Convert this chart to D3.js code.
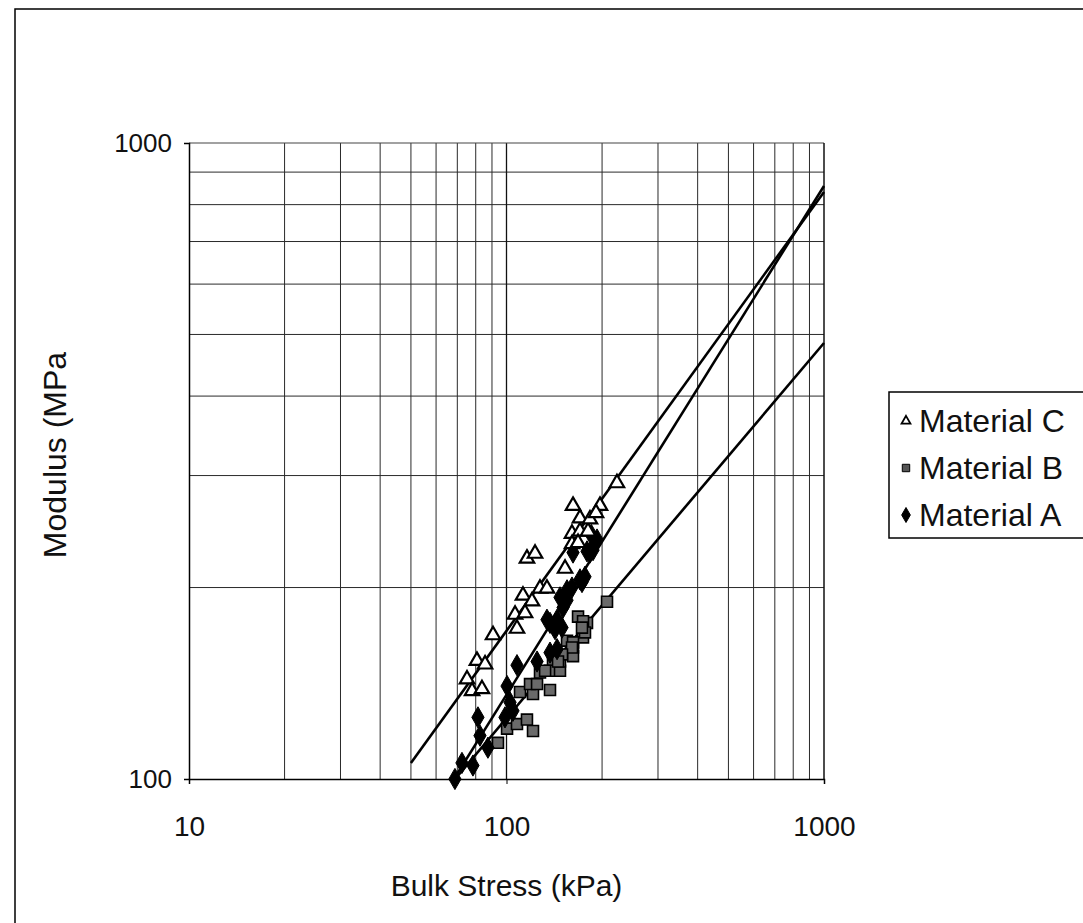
<!DOCTYPE html>
<html>
<head>
<meta charset="utf-8">
<script src="https://cdn.jsdelivr.net/npm/d3@7"></script>
<style>
  html, body { margin: 0; padding: 0; background: #fff; }
  svg { display: block; }
  text { font-family: "Liberation Sans", Arial, sans-serif; fill: #111; }
</style>
</head>
<body>
<svg id="chart" width="1083" height="923"></svg>
<script>
// Bulk stress (kPa) vs resilient modulus (MPa) for three materials
const materialC = [
  [75.1,144],[77.9,138],[83.7,139],[80.7,154],[85.6,152],[90.7,169],[107.9,173],
  [106.4,182],[114.4,183],[112.7,195],[120.3,191],[127.5,200],[134.1,200],[116,223],
  [123,227],[152.9,215],[160.8,244],[170.4,246],[180.6,246],[160.8,235],[168,236],
  [162,270],[170.4,258],[183.2,257],[197,270],[191.4,263],[222.8,293]
];
const materialB = [
  [94,114],[100.4,120],[107.9,122],[121.2,119],[116,124],[110.3,137],[121.2,136],
  [118.6,141],[124.8,141],[137.1,138],[127.5,147],[137.1,148],[147.4,148],[140.1,154],
  [162,161],[155.1,165],[174.2,167],[162,156],[147.4,153],[179.3,176],[207.3,190],
  [168,180],[174.2,177],[176.7,170],[162,164],[160.8,161],[149.6,157],[145.3,153],
  [132.3,148],[172.9,173]
];
const materialA = [
  [68.8,100],[72.4,106],[78.4,105],[82.5,117],[81.3,125],[87.4,112],[100.4,140],
  [107.9,151],[102.6,132],[98.9,125],[104.8,128],[124.8,153],[137.1,158],[134.1,178],
  [144.3,160],[142.2,175],[162,227],[179.3,228],[187.3,229],[192.8,238],[160.8,200],
  [170.4,206],[176.7,208],[155.1,198],[147.4,193],[150.7,186],[155.1,191],[144.3,178],
  [137.1,176],[142.2,172],[149.6,173],[172.9,204],[183.2,227],[185,242]
];

// Power-law trend lines E = a * (theta / t0)^b, drawn between the listed stress limits
const trendC = { ref: [50, 106], slope: 0.69, from: 50, to: 1000 };
const trendB = { ref: [223, 200], slope: 0.59, from: 60, to: 1000 };
const trendA = { ref: [68.3, 100], slope: 0.80, from: 60, to: 1000 };

const xTicks = [10, 100, 1000];
const yTicks = [100, 1000];
const legendItems = ["Material C", "Material B", "Material A"];

const svg = d3.select("#chart");
const pLeft = 189, pRight = 824, pTop = 143, pBottom = 779;

const x = d3.scaleLog().domain([10, 1000]).range([pLeft, pRight]);
const y = d3.scaleLog().domain([100, 1000]).range([pBottom, pTop]);

// chart-area frame
svg.append("rect").attr("x", 15).attr("y", 9).attr("width", 1080).attr("height", 920)
  .attr("fill", "#fff").attr("stroke", "#000").attr("stroke-width", 1.5);

// gridlines
const minorX = [];
for (const d of [10, 100]) for (let k = 2; k <= 9; k++) minorX.push(d * k);
const minorY = [];
for (let k = 2; k <= 9; k++) minorY.push(100 * k);

const grid = svg.append("g");
grid.selectAll(".gx").data(minorX).join("line")
  .attr("x1", d => x(d)).attr("x2", d => x(d)).attr("y1", pTop).attr("y2", pBottom)
  .attr("stroke", "#2a2a2a").attr("stroke-width", 1);
grid.selectAll(".gy").data(minorY).join("line")
  .attr("x1", pLeft).attr("x2", pRight).attr("y1", d => y(d)).attr("y2", d => y(d))
  .attr("stroke", "#2a2a2a").attr("stroke-width", 1);
grid.selectAll(".gX").data([100]).join("line")
  .attr("x1", d => x(d)).attr("x2", d => x(d)).attr("y1", pTop).attr("y2", pBottom)
  .attr("stroke", "#111").attr("stroke-width", 1.3);

// plot frame
svg.append("line").attr("x1", pLeft).attr("x2", pRight).attr("y1", pTop).attr("y2", pTop)
  .attr("stroke", "#444").attr("stroke-width", 1.2);
svg.append("line").attr("x1", pRight).attr("x2", pRight).attr("y1", pTop).attr("y2", pBottom)
  .attr("stroke", "#111").attr("stroke-width", 1.5);

// axes
const xAxis = d3.axisBottom(x).tickValues(xTicks).tickFormat(d3.format("d")).tickSize(5).tickPadding(32);
const yAxis = d3.axisLeft(y).tickValues(yTicks).tickFormat(d3.format("d")).tickSize(5).tickPadding(12);

const gx = svg.append("g").attr("transform", `translate(0,${pBottom})`).call(xAxis);
const gy = svg.append("g").attr("transform", `translate(${pLeft},0)`).call(yAxis);
[gx, gy].forEach(g => {
  g.select(".domain").attr("stroke", "#000").attr("stroke-width", 1.5);
  g.selectAll(".tick line").attr("stroke", "#000");
  g.selectAll(".tick text").attr("font-size", 28).attr("fill", "#111")
    .style("font-family", '"Liberation Sans", Arial, sans-serif');
});
gy.selectAll(".tick text").attr("font-size", 26);

// axis titles
svg.append("text").attr("x", x(100)).attr("y", 896).attr("text-anchor", "middle")
  .attr("font-size", 30).text("Bulk Stress (kPa)");
svg.append("text").attr("transform", `translate(66,${(pTop + pBottom) / 2 - 6}) rotate(-90)`)
  .attr("text-anchor", "middle").attr("font-size", 32).text("Modulus (MPa");

// clip region for trend lines
svg.append("clipPath").attr("id", "plotClip").append("rect")
  .attr("x", pLeft).attr("y", pTop - 2).attr("width", pRight - pLeft + 2).attr("height", pBottom - pTop + 2);

const plot = svg.append("g").attr("clip-path", "url(#plotClip)");
const line = d3.line().x(d => x(d[0])).y(d => y(d[1]));
function trendPoints(t) {
  return [t.from, t.to].map(v => [v, t.ref[1] * Math.pow(v / t.ref[0], t.slope)]);
}
[trendC, trendB, trendA].forEach(t => {
  plot.append("path").datum(trendPoints(t)).attr("d", line)
    .attr("fill", "none").attr("stroke", "#000").attr("stroke-width", 2.6);
});

// markers
const tri = d3.symbol().type(d3.symbolTriangle).size(90);
const sq = d3.symbol().type(d3.symbolSquare).size(120);
const dia = d3.symbol().type(d3.symbolDiamond).size(130);

const pts = svg.append("g");
pts.selectAll(".b").data(materialB).join("path")
  .attr("d", sq).attr("transform", d => `translate(${x(d[0])},${y(d[1])})`)
  .attr("fill", "#6a6a6a").attr("stroke", "#000").attr("stroke-width", 1.6);
pts.selectAll(".a").data(materialA).join("path")
  .attr("d", dia).attr("transform", d => `translate(${x(d[0])},${y(d[1])})`)
  .attr("fill", "#000").attr("stroke", "#000").attr("stroke-width", 1);
pts.selectAll(".c").data(materialC).join("path")
  .attr("d", tri).attr("transform", d => `translate(${x(d[0])},${y(d[1]) + 1})`)
  .attr("fill", "#fff").attr("stroke", "#000").attr("stroke-width", 2.2);

// legend
const lg = svg.append("g");
lg.append("rect").attr("x", 889).attr("y", 392).attr("width", 210).attr("height", 146)
  .attr("fill", "#fff").attr("stroke", "#000").attr("stroke-width", 1.5);
const legendSym = [
  { d: d3.symbol().type(d3.symbolTriangle).size(34)(), fill: "#fff", sw: 1.8 },
  { d: d3.symbol().type(d3.symbolSquare).size(55)(), fill: "#555", sw: 1 },
  { d: d3.symbol().type(d3.symbolDiamond).size(65)(), fill: "#000", sw: 1 }
];
legendItems.forEach((name, i) => {
  const cy = 421 + i * 47;
  lg.append("path").attr("d", legendSym[i].d).attr("transform", `translate(906,${cy})`)
    .attr("fill", legendSym[i].fill).attr("stroke", "#000").attr("stroke-width", legendSym[i].sw);
  lg.append("text").attr("x", 919).attr("y", cy + 11).attr("font-size", 32).text(name);
});
</script>
</body>
</html>
